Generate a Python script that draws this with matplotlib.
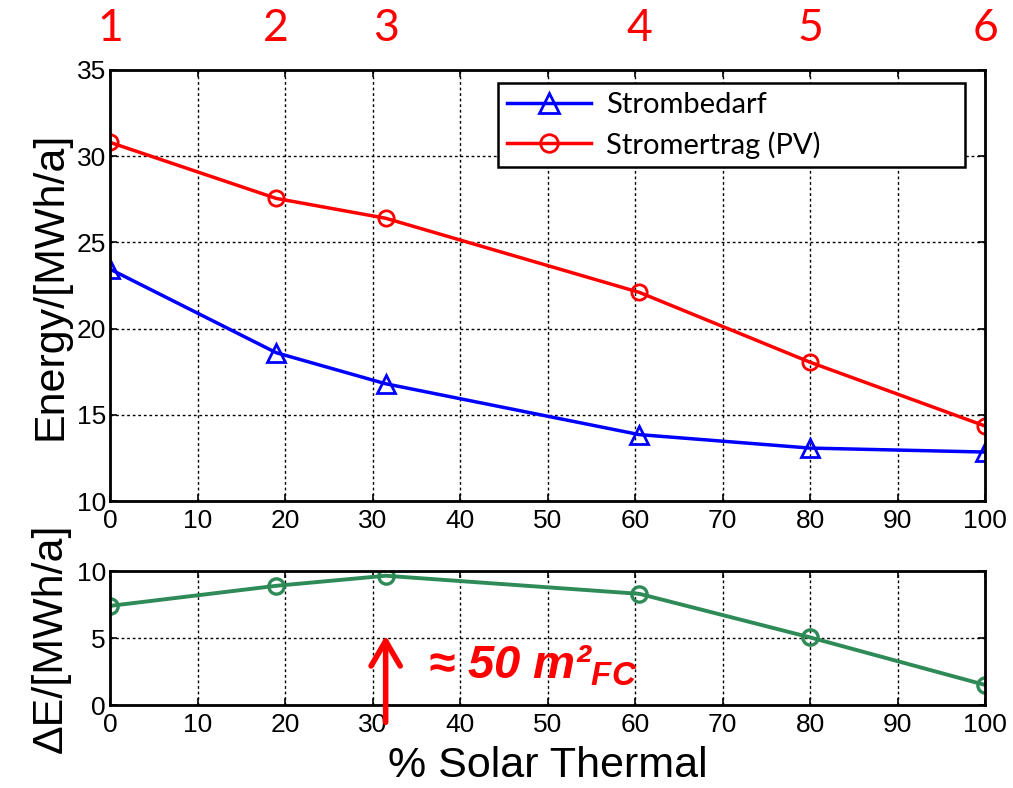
import matplotlib.pyplot as plt

# Daten
solar_pct = [0, 19, 31.5, 60.5, 80, 100]
strombedarf = [23.45, 18.6, 16.8, 13.85, 13.07, 12.84]
stromertrag = [30.8, 27.55, 26.4, 22.1, 18.05, 14.35]
delta_e = [7.4, 8.9, 9.65, 8.3, 5.05, 1.5]
case_labels = ["1", "2", "3", "4", "5", "6"]

plt.rcParams['font.family'] = ['Liberation Sans', 'DejaVu Sans']
plt.rcParams['mathtext.fontset'] = 'custom'
plt.rcParams['mathtext.it'] = 'Liberation Sans:bold:italic'
plt.rcParams['mathtext.rm'] = 'Liberation Sans:bold:italic'
calib = ['Lato', 'DejaVu Sans']

fig = plt.figure(figsize=(10.13, 7.88), dpi=100)
ax1 = fig.add_axes([0.1086, 0.3642, 0.8638, 0.547])
ax2 = fig.add_axes([0.1086, 0.1053, 0.8638, 0.170])

ax1.plot(solar_pct, strombedarf, '-^', color='blue', lw=2.5, ms=13,
         mfc='none', mew=2, label='Strombedarf')
ax1.plot(solar_pct, stromertrag, '-o', color='red', lw=2.5, ms=11,
         mfc='none', mew=2, label='Stromertrag (PV)')
ax1.set_xlim(0, 100)
ax1.set_ylim(10, 35)
ax1.set_xticks(range(0, 101, 10))
ax1.set_yticks(range(10, 36, 5))
ax1.set_ylabel('Energy/[MWh/a]', fontsize=31, labelpad=4)
leg = ax1.legend(loc='upper left', bbox_to_anchor=(0.4434, 0.7726, 0.534, 0.197),
                 mode='expand', prop={'family': calib, 'size': 21},
                 fancybox=False, edgecolor='black', framealpha=1,
                 handlelength=2.9, borderpad=0.3, labelspacing=0.45,
                 handletextpad=0.5, borderaxespad=0, markerscale=1.15)
leg.get_frame().set_linewidth(1.8)

for x, lab in zip(solar_pct, case_labels):
    ax1.text(x, 1.097, lab, transform=ax1.get_xaxis_transform(), color='red',
             fontsize=32, ha='center', va='center', family=calib)

ax2.plot(solar_pct, delta_e, '-o', color='#2e8b57', lw=2.8, ms=11,
         mfc='none', mew=2.4)
ax2.set_xlim(0, 100)
ax2.set_ylim(0, 10)
ax2.set_xticks(range(0, 101, 10))
ax2.set_yticks([0, 5, 10])
ax2.set_ylabel('ΔE/[MWh/a]', fontsize=31, labelpad=4)
ax2.set_xlabel('% Solar Thermal', fontsize=31, labelpad=6)

ax2.annotate('', xy=(31.5, 5.4), xytext=(31.5, -1.5),
             arrowprops=dict(arrowstyle='->,head_length=0.6,head_width=0.35',
                             color='red', lw=4, mutation_scale=30),
             annotation_clip=False)
ax2.text(36.3, 2.9, r'≈ 50 m²$_{FC}$', color='red',
         fontsize=34, fontweight='bold', fontstyle='italic', va='center')

for ax in (ax1, ax2):
    ax.grid(True, color='black', linestyle=(0, (2, 2)), linewidth=1)
    ax.tick_params(direction='in', labelsize=19, length=5, width=1.2,
                   top=True, right=True)
    ax.tick_params(axis='x', pad=6)
    ax.tick_params(axis='y', pad=3)
    for s in ax.spines.values():
        s.set_linewidth(2)

fig.savefig('out.png', dpi=100)
